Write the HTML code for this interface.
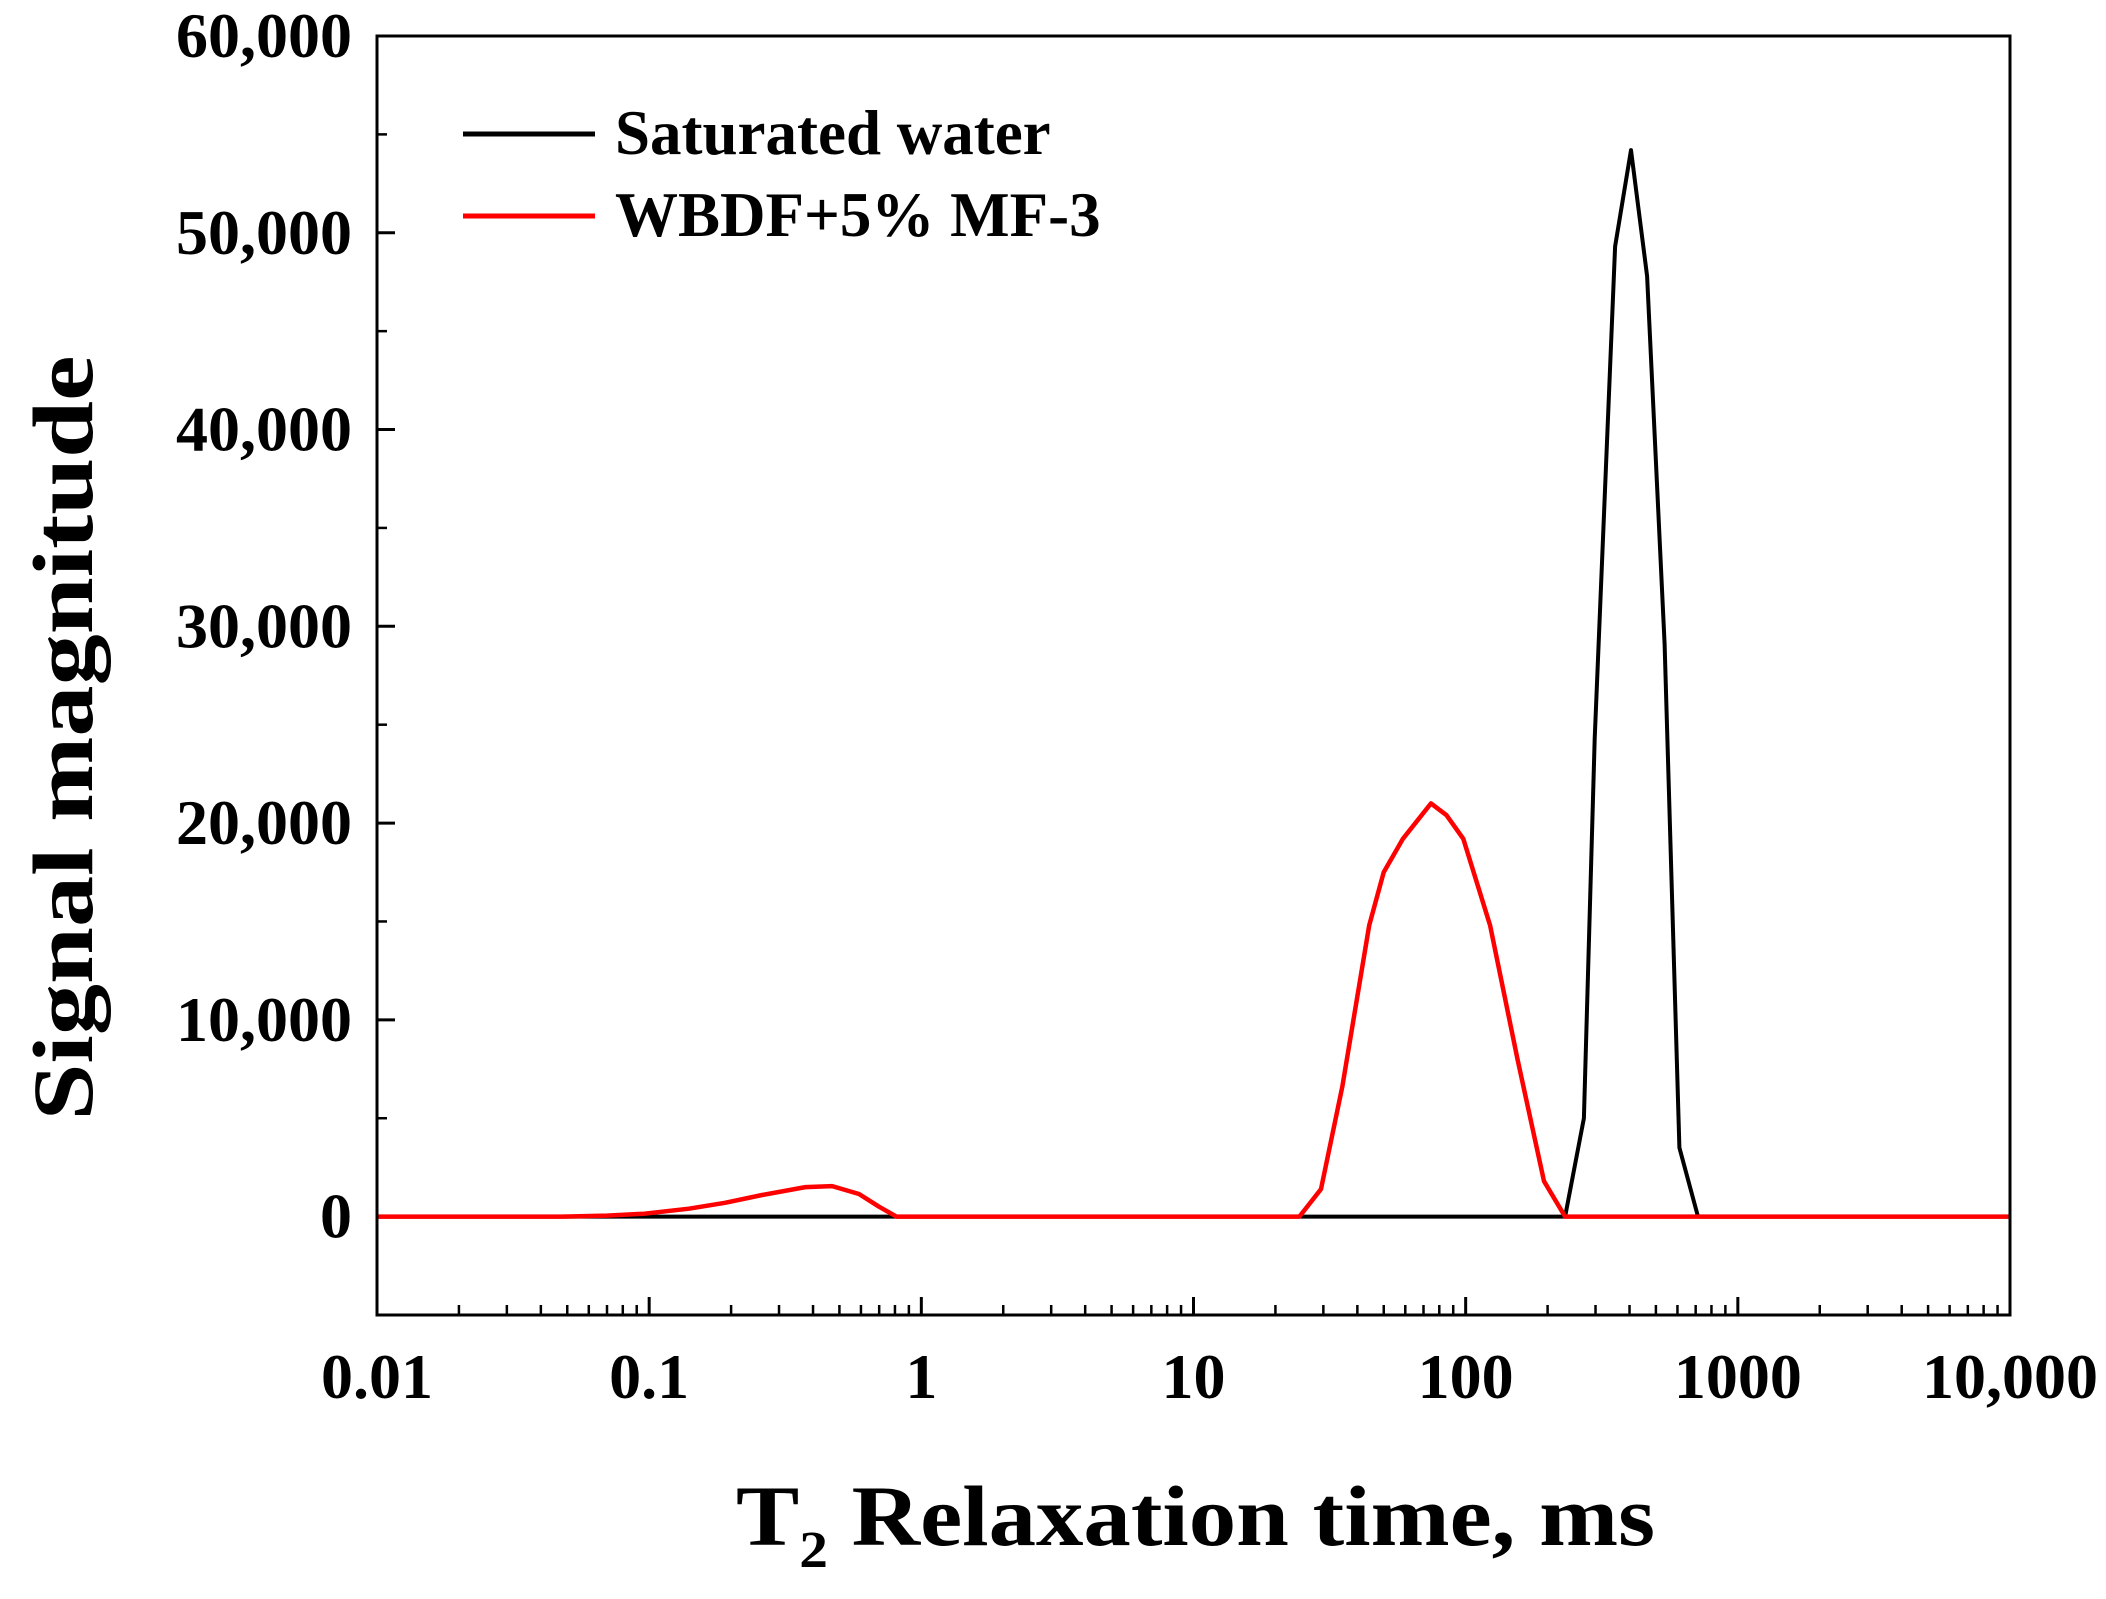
<!DOCTYPE html>
<html><head><meta charset="utf-8"><style>
html,body{margin:0;padding:0;background:#fff;}
svg{display:block;font-family:"Liberation Serif",serif;font-weight:bold;}
</style></head><body>
<svg id="chart" width="2106" height="1599" viewBox="0 0 2106 1599">
</svg>
<script>
const xTickVals=[0.01,0.1,1,10,100,1000,10000];
const xTickLabels=["0.01","0.1","1","10","100","1000","10,000"];
const yTickVals=[0,10000,20000,30000,40000,50000,60000];
const yTickLabels=["0","10,000","20,000","30,000","40,000","50,000","60,000"];
const waterT=[0.01,232,272,298,354,405,464,538,610,714,10000];
const waterS=[0,0,5000,24300,49300,54200,47800,29100,3500,0,0];
const mfT=[0.01,0.048,0.07,0.096,0.14,0.19,0.26,0.375,0.47,0.59,0.7,0.81,24.5,29.4,35.2,44.2,50,58.8,74.6,85,98,123,155,194,232,10000];
const mfS=[0,0,50,150,400,700,1100,1500,1550,1150,500,0,0,1400,6600,14800,17500,19200,21000,20400,19200,14800,8000,1800,0,0];

const L=377,R=2010,T=36,B=1315,XMIN=-2,XMAX=4,YMIN=-5000,YMAX=60000;
const xs=v=>L+(Math.log10(v)-XMIN)/(XMAX-XMIN)*(R-L);
const ys=v=>B-(v-YMIN)/(YMAX-YMIN)*(B-T);
const svg=document.getElementById('chart');
const NS="http://www.w3.org/2000/svg";
function mk(tag,attrs,parent){const e=document.createElementNS(NS,tag);for(const k in attrs)e.setAttribute(k,attrs[k]);(parent||svg).appendChild(e);return e;}

for(let d=-2;d<4;d++){for(let m=2;m<=9;m++){const x=xs(m*Math.pow(10,d));
const t=mk('line',{x1:x,x2:x,y1:B,y2:B-10,stroke:'#000','stroke-width':2.5});

}}
xTickVals.forEach((v,i)=>{const x=xs(v);
const t=mk('line',{x1:x,x2:x,y1:B,y2:B-18,stroke:'#000','stroke-width':3});


const l=mk('text',{x:x,y:1398,'text-anchor':'middle','font-size':64});
l.textContent=xTickLabels[i];

});
for(let v=-5000;v<=60000;v+=5000){const y=ys(v);const major=v%10000===0;
const t=mk('line',{x1:L,x2:L+(major?18:10),y1:y,y2:y,stroke:'#000','stroke-width':major?3:2.5});

}
yTickVals.forEach((v,i)=>{
const l=mk('text',{x:352,y:ys(v)+21,'text-anchor':'end','font-size':64});
l.textContent=yTickLabels[i];

});

function series(T2,S,color,name,w){
const p=T2.map((t,i)=>(i?'L':'M')+xs(t).toFixed(1)+' '+ys(S[i]).toFixed(1)).join(' ');
const e=mk('path',{d:p,fill:'none',stroke:color,'stroke-width':w,'stroke-linejoin':'round'});

}
series(waterT,waterS,'#000','saturated-water-line',4);
series(mfT,mfS,'#f00','wbdf-mf3-line',4.5);

const f=mk('rect',{x:L,y:T,width:R-L,height:B-T,fill:'none',stroke:'#000','stroke-width':3});



const lg=mk('g',{});


[['Saturated water','#000',134,'legend-entry-water'],['WBDF+5% MF-3','#f00',216,'legend-entry-mf3']].forEach(a=>{
const g=mk('g',{},lg);


mk('line',{x1:463,x2:595,y1:a[2],y2:a[2],stroke:a[1],'stroke-width':5},g);
const t=mk('text',{x:615,y:a[2]+20,'font-size':63},g);t.textContent=a[0];});

const xt=mk('text',{x:736,y:1545,'font-size':86,textLength:919,lengthAdjust:'spacingAndGlyphs'});
xt.innerHTML='T<tspan font-size="52" dy="22">2</tspan><tspan dy="-22"> Relaxation time, ms</tspan>';


const yt=mk('text',{x:0,y:0,'font-size':86,'text-anchor':'middle',transform:'translate(92,738) rotate(-90)',textLength:765,lengthAdjust:'spacingAndGlyphs'});
yt.textContent='Signal magnitude';


</script>
</body></html>
